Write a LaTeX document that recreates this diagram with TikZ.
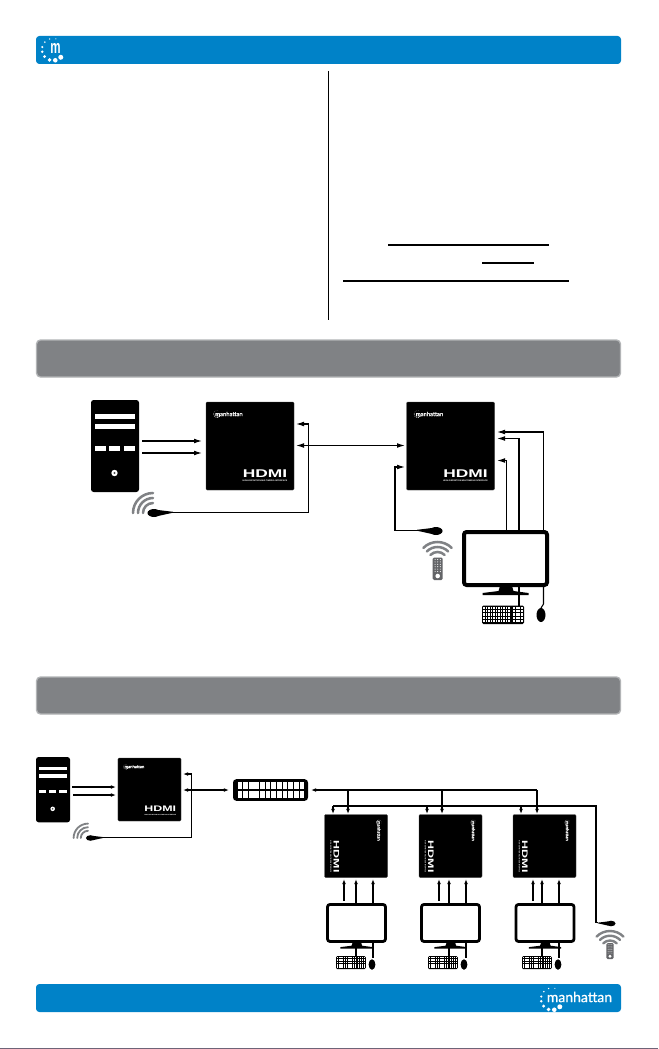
\documentclass[tikz,border=0pt]{standalone}
\usepackage{fontspec}
\newfontfamily\logofont{Lato}[FakeBold=0.7]
\newfontfamily\hdmifont{Liberation Sans}
\usetikzlibrary{arrows.meta}

\definecolor{barblue}{RGB}{0,130,200}
\definecolor{bargray}{RGB}{128,130,133}
\definecolor{baredge}{RGB}{178,180,182}
\definecolor{wavegray}{RGB}{128,130,133}
\definecolor{remotegray}{RGB}{100,101,104}
\definecolor{stripmix}{RGB}{110,100,120}

\tikzset{every picture/.style={line width=0.75pt}}
\tikzset{
  bluebar/.style={fill=barblue,rounded corners=2.5pt},
  graybar/.style={draw=baredge,fill=bargray,line width=1pt,rounded corners=3pt},
  rule/.style={line width=0.9pt},
  devbox/.style={fill=black,draw=black!75,line width=0.3pt,rounded corners=0.8pt,inner sep=0pt,outer sep=0pt},
  towerbox/.style={fill=black,rounded corners=2pt,inner sep=0pt,outer sep=0pt},
  framebox/.style={draw=black,fill=white,rounded corners=2pt,inner sep=0pt,outer sep=0pt},
  hubbox/.style={fill=black,rounded corners=2.5pt,inner sep=0pt,outer sep=0pt,minimum width=56.25pt,minimum height=16.2pt},
  logotext/.style={text=white,font=\logofont,inner sep=0pt},
  hdmitext/.style={text=white,font=\hdmifont\bfseries,inner sep=0pt},
  wave/.style={draw=wavegray,line cap=round},
  conn/.style={line width=0.85pt,-{Latex[length=6pt,width=3.6pt]}},
  dualconn/.style={line width=0.85pt,{Latex[length=6pt,width=3.6pt]}-{Latex[length=6pt,width=3.6pt]}},
  tinyconn/.style={line width=0.8pt,-{Latex[length=3.8pt,width=2.8pt]}},
  dualtiny/.style={line width=0.8pt,{Latex[length=3.8pt,width=2.8pt]}-{Latex[length=3.8pt,width=2.8pt]}},
  lead/.style={line width=0.8pt}
}

% centre x, centre y, factor
\newcommand{\dotring}[3]{
  \begin{scope}[shift={(#1,#2)},scale=#3]
    \foreach \da/\ds in {45/2.5,78/2.3,108/1.9,140/1.6,168/1.4,193/1.2,222/0.9,252/0.7,285/0.6}
      \fill[white] (\da:11) circle (\ds);
  \end{scope}
}
% name, centre x, centre y, factor, turn
\newcommand{\extbox}[5]{
  \node[devbox,minimum size=#4*66pt] (#1) at (#2,#3) {};
  \begin{scope}[shift={(#2,#3)},scale=#4,rotate=#5]
    \dotring{-33}{-32}{0.3}
    \node[logotext,rotate=-#5,scale=#4] (#1Logo) at (-21,-32) {\fontsize{4.4pt}{5pt}\selectfont manhattan};
    \node[hdmitext,rotate=-#5,xscale=1.55*#4,yscale=#4] (#1Hdmi) at (15,27.5) {\fontsize{8.4pt}{9pt}\selectfont HDMI};
    \node[hdmitext,rotate=-#5,scale=#4] (#1Tag) at (15,35) {\fontsize{1.6pt}{2pt}\selectfont HIGH-DEFINITION MULTIMEDIA INTERFACE};
  \end{scope}
}
% name, left, top, factor
\newcommand{\pctower}[4]{
  \node[towerbox,minimum width=#4*36pt,minimum height=#4*69pt] (#1) at ({#2+24*#4},{#3+46*#4}) {};
  \begin{scope}[shift={(#2,#3)},scale=#4]
    \fill[white] (4,14) rectangle (44,19);
    \fill[white] (4,24) rectangle (44,29);
    \foreach \lx in {4,18,33} \fill[white] (\lx,46) rectangle ++(10.5,5);
    \fill[white] (23.5,73) circle (3.2);
    \fill[black!70] (23.5,73) circle (1.2);
  \end{scope}
}
% name, centre x, top, factor
\newcommand{\lcdscreen}[4]{
  \begin{scope}[shift={(#2,#3)},scale=#4]
    \fill[black] (-5.5,56) -- (6.5,56) -- (8,61) -- (23,63) -- (23,65) -- (-23,65) -- (-23,63) -- (-7,61) -- cycle;
  \end{scope}
  \node[framebox,line width=#4*3pt,minimum width=#4*62.25pt,minimum height=#4*39.75pt] (#1) at (#2,{#3+28.5*#4}) {};
}
% left, top, factor
\newcommand{\kbdpad}[3]{
  \begin{scope}[shift={(#1,#2)},scale=#3]
    \fill[black,rounded corners=1pt] (0,0) rectangle (42,18.5);
    \foreach \kc in {0,...,15} {
      \foreach \kr in {0,...,4} {
        \ifnum\kc=11 \else \fill[white] ({1.2+\kc*2.52},{1.2+\kr*3.3}) rectangle ++(1.6,2.3); \fi
      }
    }
  \end{scope}
}
% centre x, centre y, factor
\newcommand{\ptrmouse}[3]{
  \fill[black] (#1,#2) ellipse ({4.5*#3} and {7*#3});
}
% centre x, centre y, start angle, factor
\newcommand{\irwaves}[4]{
  \begin{scope}[shift={(#1,#2)},scale=#4]
    \foreach \wr in {10,15,20}
      \draw[wave,line width=#4*1.9pt] (#3:\wr) arc (#3:{#3+90}:\wr);
  \end{scope}
}
% name, centre x, centre y, side, factor
\newcommand{\irdongle}[5]{
  \begin{scope}[shift={(#2,#3)},xscale=#4*#5,yscale=#5]
    \fill[black] (0,0) ellipse (6.5 and 4);
    \fill[black] (4,-3) -- (19,-1.2) -- (19,-0.3) -- (4,3) -- cycle;
    \coordinate (#1) at (19,-0.8);
  \end{scope}
}
% centre x, top, factor
\newcommand{\irremote}[3]{
  \begin{scope}[shift={(#1,#2)},scale=#3]
    \fill[remotegray,rounded corners=1pt] (-5,0) rectangle (5,22.5);
    \foreach \dx in {-2.6,0,2.6} {
      \foreach \dy in {2,4.4,6.8,9.2,11.6,14} {
        \fill[white] (\dx,\dy) circle (0.55);
      }
    }
    \fill[white] (0,18.5) circle (2.3);
  \end{scope}
}

\begin{document}
\begin{tikzpicture}[x=0.75pt,y=0.75pt,yscale=-1,xscale=1]
\useasboundingbox (0,0) rectangle (658,1049);
\fill[white] (0,0) rectangle (658,1049);

%Shape: header and footer
\fill[bluebar] (36,36) rectangle (621,64);
\fill[bluebar] (36,984) rectangle (621,1012);
\draw[graybar] (36.5,340) rectangle (620.5,377);
\draw[graybar] (36.5,677) rectangle (620.5,714);
\dotring{53}{49.5}{1}
\node[hdmitext,xscale=0.62] (headM) at (55.5,48.5) {\fontsize{14pt}{15pt}\selectfont m};
\dotring{552}{999}{1}
\node[logotext] (footLogo) at (579.5,997) {\fontsize{10.5pt}{12pt}\selectfont manhattan};

%Shape: column rule and underlines
\draw[line width=0.7pt] (328,71) -- (328,320);
\draw[rule] (388,245) -- (549,245);
\draw[rule] (482,263) -- (534,263);
\draw[rule] (343,281) -- (569,281);

% point to point row
\pctower{srcPc}{91}{400}{1}
\extbox{txBox}{250}{446}{1}{0}
\extbox{rxBox}{450.5}{446}{1}{0}
\lcdscreen{rxScreen}{505.5}{530}{1}
\kbdpad{482}{605.5}{1}
\ptrmouse{541}{615}{1}
\irwaves{153}{513}{180}{1}
\irdongle{txDongle}{154}{513}{1}{1}
\irwaves{437.5}{562}{225}{1}
\irdongle{rxDongle}{436}{531}{-1}{1}
\irremote{437.7}{557.5}{1}

\coordinate (pcOutA) at (142,441);
\coordinate (pcOutB) at (142,453);
\coordinate (txInA) at (202,441);
\coordinate (txInB) at (202,453);
\coordinate (txIr) at (296,424);
\coordinate (txIrBend) at (308.5,512);
\coordinate (txLink) at (296,445.5);
\coordinate (rxLink) at (405,445.5);
\coordinate (rxIr) at (405,467);
\coordinate (rxIrBend) at (395,532);
\coordinate (rxPortA) at (497,432);
\coordinate (rxPortB) at (497,438.5);
\coordinate (rxPortC) at (497,460.5);
\coordinate (screenUpA) at (543.5,530);
\coordinate (screenUpB) at (519,530);
\coordinate (screenUpC) at (506.5,530);
\coordinate (kbdLead) at (519,605.5);
\coordinate (kbdLeadTop) at (519,587);
\coordinate (mouseLead) at (541,608);
\coordinate (mouseLeadTop) at (543.5,587);

\draw[conn] (pcOutA) -- (txInA);
\draw[conn] (pcOutB) -- (txInB);
\draw[conn] (txDongle) -- (txDongle -| txIrBend) |- (txIr);
\draw[dualconn] (txLink) -- (rxLink);
\draw[conn] (rxDongle) -- (rxDongle -| rxIrBend) |- (rxIr);
\draw[conn] (screenUpA) |- (rxPortA);
\draw[conn] (screenUpB) |- (rxPortB);
\draw[conn] (screenUpC) |- (rxPortC);
\draw[lead] (kbdLeadTop) -- (kbdLead);
\draw[lead] (mouseLeadTop) -- (543.5,604) -- (mouseLead);

% one to many row
\pctower{hubPc}{36}{757}{0.71}
\extbox{hubTx}{149.5}{789.5}{0.716}{0}
\irwaves{88}{838}{180}{0.72}
\irdongle{hubDongle}{90.5}{838}{1}{0.7}
\node[hubbox] (hubSwitch) at (270.5,790) {};
\foreach \kx in {0,...,11} {
  \fill[white] ({237.5+\kx*5.65},782) rectangle ++(4.7,7);
  \fill[white] ({237.5+\kx*5.65},791) rectangle ++(4.7,7);
}
\irwaves{610}{950}{225}{0.95}
\irremote{610}{943}{0.72}
\irdongle{farDongle}{611}{923.5}{-1}{0.7}

\coordinate (hubOutA) at (72,787);
\coordinate (hubOutB) at (73,795);
\coordinate (hubInA) at (116,787);
\coordinate (hubInB) at (116,795);
\coordinate (hubIr) at (183,774);
\coordinate (hubIrBend) at (191.5,836.8);
\coordinate (hubLink) at (183,790);
\coordinate (switchWest) at (229,790);
\coordinate (switchEast) at (311,790);
\coordinate (busEnd) at (537,790);
\coordinate (irBusEnd) at (596,806);
\coordinate (irBusStart) at (333,806);

\draw[tinyconn] (hubOutA) -- (hubInA);
\draw[tinyconn] (hubOutB) -- (hubInB);
\draw[tinyconn] (hubDongle) -- (hubDongle -| hubIrBend) |- (hubIr);
\draw[dualtiny] (hubLink) -- (switchWest);
\draw[tinyconn] (busEnd) -- (switchEast);
\draw[lead] (farDongle) -- (irBusEnd |- farDongle) -- (irBusEnd) -- (irBusStart);

\foreach \unit/\bx/\sx/\kbx/\mox/\ax/\bbx/\cx/\irx/\lnx in {
  A/356/356.5/336/372/344/356/373/333/348,
  B/450.5/450.5/428/464/439/449/466/427/442,
  C/544.5/545/522/558/533/542/559/521/537} {
  \extbox{unit\unit}{\bx}{846}{0.716}{90}
  \lcdscreen{screen\unit}{\sx}{903}{0.7}
  \kbdpad{\kbx}{956}{0.71}
  \ptrmouse{\mox}{964.5}{0.75}
  \coordinate (portA\unit) at (\ax,879);
  \coordinate (portB\unit) at (\bbx,879);
  \coordinate (portC\unit) at (\cx,879);
  \coordinate (upA\unit) at (\ax,901);
  \coordinate (upB\unit) at (\bbx,903);
  \coordinate (upC\unit) at (\cx,903);
  \coordinate (irTap\unit) at (\irx,806);
  \coordinate (irPort\unit) at (\irx,814);
  \coordinate (busTap\unit) at (\lnx,790);
  \coordinate (busPort\unit) at (\lnx,814);
  \draw[tinyconn] (upA\unit) -- (portA\unit);
  \draw[tinyconn] (upB\unit) -- (portB\unit);
  \draw[tinyconn] (upC\unit) -- (portC\unit);
  \draw[tinyconn] (irTap\unit) -- (irPort\unit);
  \draw[tinyconn] (busTap\unit) -- (busPort\unit);
  \coordinate (kbdTop\unit) at (\bbx,942);
  \coordinate (kbdEnd\unit) at (\bbx,956);
  \coordinate (moTop\unit) at (\cx,942);
  \coordinate (moEnd\unit) at (\cx,958);
  \draw[lead] (kbdTop\unit) -- (kbdEnd\unit);
  \draw[lead] (moTop\unit) -- (moEnd\unit);
}

%Shape: strip along the lower edge
\draw[line width=0.75pt,color=stripmix] (0,1048.5) -- (658,1048.5);

\end{tikzpicture}
\end{document}
